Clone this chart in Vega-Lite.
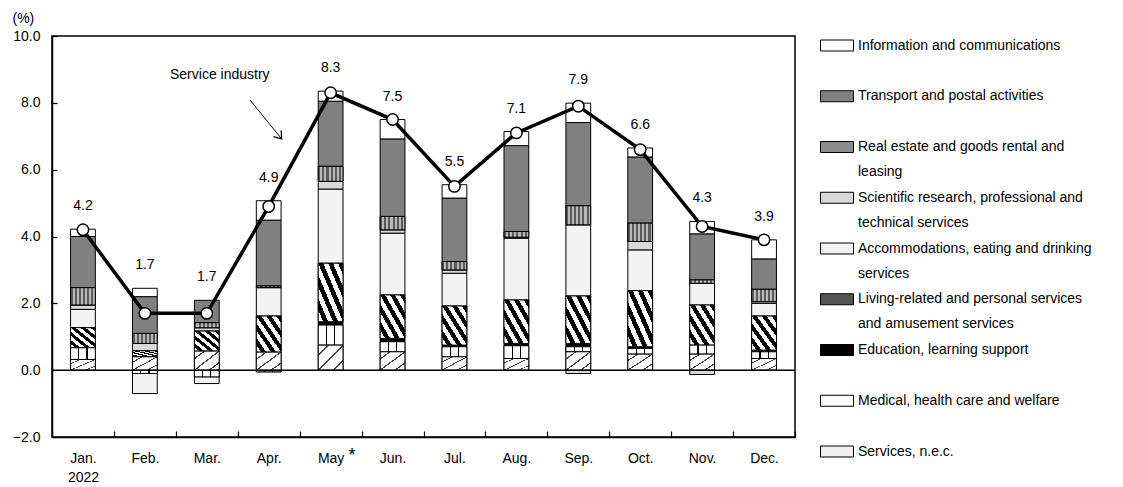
{
  "$schema": "https://vega.github.io/schema/vega-lite/v6.json",
  "width": 743,
  "height": 401,
  "autosize": {"type": "none"},
  "padding": {"left": 52, "top": 36, "right": 328, "bottom": 50},
  "config": {
    "font": "Liberation Sans",
    "view": {"stroke": "black", "strokeWidth": 1.5}
  },
  "datasets": {
    "bars": [
      {"month": "Jan.", "category": "Services, n.e.c.", "value": 0.32},
      {"month": "Jan.", "category": "Medical, health care and welfare", "value": 0.35},
      {"month": "Jan.", "category": "Living-related and personal services and amusement services", "value": 0.6},
      {"month": "Jan.", "category": "Accommodations, eating and drinking services", "value": 0.55},
      {"month": "Jan.", "category": "Scientific research, professional and technical services", "value": 0.13},
      {"month": "Jan.", "category": "Real estate and goods rental and leasing", "value": 0.52},
      {"month": "Jan.", "category": "Transport and postal activities", "value": 1.53},
      {"month": "Jan.", "category": "Information and communications", "value": 0.22},
      {"month": "Feb.", "category": "Services, n.e.c.", "value": 0.4},
      {"month": "Feb.", "category": "Medical, health care and welfare", "value": -0.1},
      {"month": "Feb.", "category": "Living-related and personal services and amusement services", "value": 0.18},
      {"month": "Feb.", "category": "Accommodations, eating and drinking services", "value": -0.6},
      {"month": "Feb.", "category": "Scientific research, professional and technical services", "value": 0.22},
      {"month": "Feb.", "category": "Real estate and goods rental and leasing", "value": 0.3},
      {"month": "Feb.", "category": "Transport and postal activities", "value": 1.1},
      {"month": "Feb.", "category": "Information and communications", "value": 0.25},
      {"month": "Mar.", "category": "Services, n.e.c.", "value": 0.57},
      {"month": "Mar.", "category": "Medical, health care and welfare", "value": -0.2},
      {"month": "Mar.", "category": "Living-related and personal services and amusement services", "value": 0.6},
      {"month": "Mar.", "category": "Accommodations, eating and drinking services", "value": -0.2},
      {"month": "Mar.", "category": "Scientific research, professional and technical services", "value": 0.1},
      {"month": "Mar.", "category": "Real estate and goods rental and leasing", "value": 0.15},
      {"month": "Mar.", "category": "Transport and postal activities", "value": 0.67},
      {"month": "Apr.", "category": "Services, n.e.c.", "value": 0.54},
      {"month": "Apr.", "category": "Medical, health care and welfare", "value": -0.05},
      {"month": "Apr.", "category": "Living-related and personal services and amusement services", "value": 1.08},
      {"month": "Apr.", "category": "Accommodations, eating and drinking services", "value": 0.85},
      {"month": "Apr.", "category": "Real estate and goods rental and leasing", "value": 0.05},
      {"month": "Apr.", "category": "Transport and postal activities", "value": 1.97},
      {"month": "Apr.", "category": "Information and communications", "value": 0.58},
      {"month": "May", "category": "Services, n.e.c.", "value": 0.75},
      {"month": "May", "category": "Medical, health care and welfare", "value": 0.6},
      {"month": "May", "category": "Education, learning support", "value": 0.1},
      {"month": "May", "category": "Living-related and personal services and amusement services", "value": 1.75},
      {"month": "May", "category": "Accommodations, eating and drinking services", "value": 2.22},
      {"month": "May", "category": "Scientific research, professional and technical services", "value": 0.23},
      {"month": "May", "category": "Real estate and goods rental and leasing", "value": 0.45},
      {"month": "May", "category": "Transport and postal activities", "value": 1.95},
      {"month": "May", "category": "Information and communications", "value": 0.3},
      {"month": "Jun.", "category": "Services, n.e.c.", "value": 0.55},
      {"month": "Jun.", "category": "Medical, health care and welfare", "value": 0.3},
      {"month": "Jun.", "category": "Education, learning support", "value": 0.1},
      {"month": "Jun.", "category": "Living-related and personal services and amusement services", "value": 1.3},
      {"month": "Jun.", "category": "Accommodations, eating and drinking services", "value": 1.85},
      {"month": "Jun.", "category": "Scientific research, professional and technical services", "value": 0.1},
      {"month": "Jun.", "category": "Real estate and goods rental and leasing", "value": 0.4},
      {"month": "Jun.", "category": "Transport and postal activities", "value": 2.32},
      {"month": "Jun.", "category": "Information and communications", "value": 0.58},
      {"month": "Jul.", "category": "Services, n.e.c.", "value": 0.4},
      {"month": "Jul.", "category": "Medical, health care and welfare", "value": 0.3},
      {"month": "Jul.", "category": "Education, learning support", "value": 0.05},
      {"month": "Jul.", "category": "Living-related and personal services and amusement services", "value": 1.17},
      {"month": "Jul.", "category": "Accommodations, eating and drinking services", "value": 0.98},
      {"month": "Jul.", "category": "Scientific research, professional and technical services", "value": 0.1},
      {"month": "Jul.", "category": "Real estate and goods rental and leasing", "value": 0.25},
      {"month": "Jul.", "category": "Transport and postal activities", "value": 1.9},
      {"month": "Jul.", "category": "Information and communications", "value": 0.4},
      {"month": "Aug.", "category": "Services, n.e.c.", "value": 0.35},
      {"month": "Aug.", "category": "Medical, health care and welfare", "value": 0.38},
      {"month": "Aug.", "category": "Education, learning support", "value": 0.07},
      {"month": "Aug.", "category": "Living-related and personal services and amusement services", "value": 1.3},
      {"month": "Aug.", "category": "Accommodations, eating and drinking services", "value": 1.85},
      {"month": "Aug.", "category": "Scientific research, professional and technical services", "value": 0.03},
      {"month": "Aug.", "category": "Real estate and goods rental and leasing", "value": 0.17},
      {"month": "Aug.", "category": "Transport and postal activities", "value": 2.57},
      {"month": "Aug.", "category": "Information and communications", "value": 0.42},
      {"month": "Sep.", "category": "Services, n.e.c.", "value": 0.55},
      {"month": "Sep.", "category": "Medical, health care and welfare", "value": 0.15},
      {"month": "Sep.", "category": "Education, learning support", "value": 0.1},
      {"month": "Sep.", "category": "Living-related and personal services and amusement services", "value": 1.42},
      {"month": "Sep.", "category": "Accommodations, eating and drinking services", "value": 2.13},
      {"month": "Sep.", "category": "Scientific research, professional and technical services", "value": -0.1},
      {"month": "Sep.", "category": "Real estate and goods rental and leasing", "value": 0.57},
      {"month": "Sep.", "category": "Transport and postal activities", "value": 2.49},
      {"month": "Sep.", "category": "Information and communications", "value": 0.58},
      {"month": "Oct.", "category": "Services, n.e.c.", "value": 0.48},
      {"month": "Oct.", "category": "Medical, health care and welfare", "value": 0.17},
      {"month": "Oct.", "category": "Education, learning support", "value": 0.05},
      {"month": "Oct.", "category": "Living-related and personal services and amusement services", "value": 1.68},
      {"month": "Oct.", "category": "Accommodations, eating and drinking services", "value": 1.22},
      {"month": "Oct.", "category": "Scientific research, professional and technical services", "value": 0.25},
      {"month": "Oct.", "category": "Real estate and goods rental and leasing", "value": 0.55},
      {"month": "Oct.", "category": "Transport and postal activities", "value": 1.98},
      {"month": "Oct.", "category": "Information and communications", "value": 0.27},
      {"month": "Nov.", "category": "Services, n.e.c.", "value": 0.48},
      {"month": "Nov.", "category": "Medical, health care and welfare", "value": 0.27},
      {"month": "Nov.", "category": "Living-related and personal services and amusement services", "value": 1.2},
      {"month": "Nov.", "category": "Accommodations, eating and drinking services", "value": 0.65},
      {"month": "Nov.", "category": "Scientific research, professional and technical services", "value": -0.13},
      {"month": "Nov.", "category": "Real estate and goods rental and leasing", "value": 0.1},
      {"month": "Nov.", "category": "Transport and postal activities", "value": 1.38},
      {"month": "Nov.", "category": "Information and communications", "value": 0.37},
      {"month": "Dec.", "category": "Services, n.e.c.", "value": 0.35},
      {"month": "Dec.", "category": "Medical, health care and welfare", "value": 0.2},
      {"month": "Dec.", "category": "Education, learning support", "value": 0.05},
      {"month": "Dec.", "category": "Living-related and personal services and amusement services", "value": 1.02},
      {"month": "Dec.", "category": "Accommodations, eating and drinking services", "value": 0.38},
      {"month": "Dec.", "category": "Scientific research, professional and technical services", "value": 0.05},
      {"month": "Dec.", "category": "Real estate and goods rental and leasing", "value": 0.37},
      {"month": "Dec.", "category": "Transport and postal activities", "value": 0.91},
      {"month": "Dec.", "category": "Information and communications", "value": 0.57}
    ],
    "service": [
      {"month": "Jan.", "value": 4.2},
      {"month": "Feb.", "value": 1.7},
      {"month": "Mar.", "value": 1.7},
      {"month": "Apr.", "value": 4.9},
      {"month": "May", "value": 8.3},
      {"month": "Jun.", "value": 7.5},
      {"month": "Jul.", "value": 5.5},
      {"month": "Aug.", "value": 7.1},
      {"month": "Sep.", "value": 7.9},
      {"month": "Oct.", "value": 6.6},
      {"month": "Nov.", "value": 4.3},
      {"month": "Dec.", "value": 3.9}
    ]
  },
  "layer": [
    {
      "data": {"name": "bars"},
      "transform": [
        {"calculate": "indexof(['Services, n.e.c.','Medical, health care and welfare','Education, learning support','Living-related and personal services and amusement services','Accommodations, eating and drinking services','Scientific research, professional and technical services','Real estate and goods rental and leasing','Transport and postal activities','Information and communications'], datum.category)", "as": "rank"},
        {"stack": "value", "groupby": ["month"], "sort": [{"field": "rank", "order": "ascending"}], "as": ["v0", "v1"]}
      ],
      "mark": {"type": "bar", "stroke": "black", "strokeWidth": 1, "width": {"band": 0.4}},
      "encoding": {
        "x": {
          "field": "month", "type": "nominal",
          "sort": ["Jan.", "Feb.", "Mar.", "Apr.", "May", "Jun.", "Jul.", "Aug.", "Sep.", "Oct.", "Nov.", "Dec."],
          "scale": {"type": "band", "paddingInner": 0, "paddingOuter": 0},
          "axis": {
            "title": null, "labelAngle": 0, "tickBand": "extent", "tickSize": -6,
            "labelPadding": 20, "labelFontSize": 14, "labelLineHeight": 19,
            "labelExpr": "datum.value == 'Jan.' ? ['Jan.', '2022'] : datum.value",
            "domainColor": "black", "domainWidth": 1.5, "tickColor": "black", "tickWidth": 1.2, "labelColor": "black"
          }
        },
        "y": {
          "field": "v0", "type": "quantitative",
          "scale": {"domain": [-2, 10], "nice": false, "zero": false},
          "axis": {
            "title": "(%)", "titleAngle": 0, "titleX": -40, "titleY": -18, "titleAlign": "left",
            "titleBaseline": "middle", "titleFontWeight": "normal", "titleFontSize": 14, "titleColor": "black",
            "values": [-2, 0, 2, 4, 6, 8, 10], "format": ".1f", "labelFontSize": 14,
            "tickSize": -5, "labelPadding": 17, "grid": false,
            "domainColor": "black", "domainWidth": 1.5, "tickColor": "black", "tickWidth": 1.2, "labelColor": "black"
          }
        },
        "y2": {"field": "v1"},
        "fill": {
          "field": "category", "type": "nominal",
          "scale": {
            "domain": [
              "Information and communications",
              "Transport and postal activities",
              "Real estate and goods rental and leasing",
              "Scientific research, professional and technical services",
              "Accommodations, eating and drinking services",
              "Living-related and personal services and amusement services",
              "Education, learning support",
              "Medical, health care and welfare",
              "Services, n.e.c."
            ],
            "range": ["#ffffff", "#808080", "#8c8c8c", "#d9d9d9", "#f3f3f3", "#555555", "#000000", "#ffffff", "#eeeeee"]
          },
          "legend": {
            "orient": "none", "legendX": 773.5, "legendY": -2, "title": null, "padding": 0,
            "symbolType": "M-1.5,-0.5H1.5V0.5H-1.5Z", "symbolSize": 484,
            "symbolStrokeColor": "black", "symbolStrokeWidth": 1, "symbolOpacity": 1,
            "labelFontSize": 14, "labelColor": "black", "labelOffset": 9.5, "labelLimit": 320,
            "rowPadding": 6.75, "gridAlign": "all",
            "labelExpr": "datum.label == 'Real estate and goods rental and leasing' ? ['Real estate and goods rental and', 'leasing'] : datum.label == 'Scientific research, professional and technical services' ? ['Scientific research, professional and', 'technical services'] : datum.label == 'Accommodations, eating and drinking services' ? ['Accommodations, eating and drinking', 'services'] : datum.label == 'Living-related and personal services and amusement services' ? ['Living-related and personal services', 'and amusement services'] : [datum.label, '']",
            "encode": {
              "labels": {"update": {"lineHeight": {"value": 25}, "baseline": {"value": "top"}, "dy": {"value": -7}}}
            }
          }
        }
      }
    },
    {
      "data": {"name": "bars"},
      "transform": [
        {"calculate": "indexof(['Services, n.e.c.','Medical, health care and welfare','Education, learning support','Living-related and personal services and amusement services','Accommodations, eating and drinking services','Scientific research, professional and technical services','Real estate and goods rental and leasing','Transport and postal activities','Information and communications'], datum.category)", "as": "rank"},
        {"stack": "value", "groupby": ["month"], "sort": [{"field": "rank", "order": "ascending"}], "as": ["v0", "v1"]},
        {"filter": "datum.category == 'Living-related and personal services and amusement services'"}
      ],
      "mark": {"type": "bar", "stroke": "black", "strokeWidth": 1, "width": {"band": 0.4},
        "fill": {"gradient": "linear", "x1": 0, "y1": 1, "x2": 1, "y2": 0, "stops": [
          {"offset": 0, "color": "#ffffff"}, {"offset": 0.1, "color": "#ffffff"}, {"offset": 0.1, "color": "#000000"}, {"offset": 0.2, "color": "#000000"},
          {"offset": 0.2, "color": "#ffffff"}, {"offset": 0.3, "color": "#ffffff"}, {"offset": 0.3, "color": "#000000"}, {"offset": 0.4, "color": "#000000"},
          {"offset": 0.4, "color": "#ffffff"}, {"offset": 0.5, "color": "#ffffff"}, {"offset": 0.5, "color": "#000000"}, {"offset": 0.6, "color": "#000000"},
          {"offset": 0.6, "color": "#ffffff"}, {"offset": 0.7, "color": "#ffffff"}, {"offset": 0.7, "color": "#000000"}, {"offset": 0.8, "color": "#000000"},
          {"offset": 0.8, "color": "#ffffff"}, {"offset": 0.9, "color": "#ffffff"}, {"offset": 0.9, "color": "#000000"}, {"offset": 1, "color": "#000000"}
        ]}},
      "encoding": {
        "x": {"field": "month", "type": "nominal", "sort": ["Jan.", "Feb.", "Mar.", "Apr.", "May", "Jun.", "Jul.", "Aug.", "Sep.", "Oct.", "Nov.", "Dec."]},
        "y": {"field": "v0", "type": "quantitative"},
        "y2": {"field": "v1"}
      }
    },
    {
      "data": {"name": "bars"},
      "transform": [
        {"calculate": "indexof(['Services, n.e.c.','Medical, health care and welfare','Education, learning support','Living-related and personal services and amusement services','Accommodations, eating and drinking services','Scientific research, professional and technical services','Real estate and goods rental and leasing','Transport and postal activities','Information and communications'], datum.category)", "as": "rank"},
        {"stack": "value", "groupby": ["month"], "sort": [{"field": "rank", "order": "ascending"}], "as": ["v0", "v1"]},
        {"filter": "datum.category == 'Medical, health care and welfare'"}
      ],
      "mark": {"type": "bar", "stroke": "black", "strokeWidth": 1, "width": {"band": 0.4},
        "fill": {"gradient": "linear", "x1": 0, "y1": 0, "x2": 1, "y2": 0, "stops": [
          {"offset": 0, "color": "#ffffff"}, {"offset": 0.31, "color": "#ffffff"}, {"offset": 0.31, "color": "#000000"}, {"offset": 0.36, "color": "#000000"},
          {"offset": 0.36, "color": "#ffffff"}, {"offset": 0.64, "color": "#ffffff"}, {"offset": 0.64, "color": "#000000"}, {"offset": 0.69, "color": "#000000"},
          {"offset": 0.69, "color": "#ffffff"}, {"offset": 1, "color": "#ffffff"}
        ]}},
      "encoding": {
        "x": {"field": "month", "type": "nominal", "sort": ["Jan.", "Feb.", "Mar.", "Apr.", "May", "Jun.", "Jul.", "Aug.", "Sep.", "Oct.", "Nov.", "Dec."]},
        "y": {"field": "v0", "type": "quantitative"},
        "y2": {"field": "v1"}
      }
    },
    {
      "data": {"name": "bars"},
      "transform": [
        {"calculate": "indexof(['Services, n.e.c.','Medical, health care and welfare','Education, learning support','Living-related and personal services and amusement services','Accommodations, eating and drinking services','Scientific research, professional and technical services','Real estate and goods rental and leasing','Transport and postal activities','Information and communications'], datum.category)", "as": "rank"},
        {"stack": "value", "groupby": ["month"], "sort": [{"field": "rank", "order": "ascending"}], "as": ["v0", "v1"]},
        {"filter": "datum.category == 'Services, n.e.c.'"}
      ],
      "mark": {"type": "bar", "stroke": "black", "strokeWidth": 1, "width": {"band": 0.4},
        "fill": {"gradient": "linear", "x1": 0, "y1": 0, "x2": 1, "y2": 1, "stops": [
          {"offset": 0, "color": "#ffffff"}, {"offset": 0.18, "color": "#ffffff"}, {"offset": 0.18, "color": "#444444"}, {"offset": 0.22, "color": "#444444"},
          {"offset": 0.22, "color": "#ffffff"}, {"offset": 0.48, "color": "#ffffff"}, {"offset": 0.48, "color": "#444444"}, {"offset": 0.52, "color": "#444444"},
          {"offset": 0.52, "color": "#ffffff"}, {"offset": 0.78, "color": "#ffffff"}, {"offset": 0.78, "color": "#444444"}, {"offset": 0.82, "color": "#444444"},
          {"offset": 0.82, "color": "#ffffff"}, {"offset": 1, "color": "#ffffff"}
        ]}},
      "encoding": {
        "x": {"field": "month", "type": "nominal", "sort": ["Jan.", "Feb.", "Mar.", "Apr.", "May", "Jun.", "Jul.", "Aug.", "Sep.", "Oct.", "Nov.", "Dec."]},
        "y": {"field": "v0", "type": "quantitative"},
        "y2": {"field": "v1"}
      }
    },
    {
      "data": {"name": "bars"},
      "transform": [
        {"calculate": "indexof(['Services, n.e.c.','Medical, health care and welfare','Education, learning support','Living-related and personal services and amusement services','Accommodations, eating and drinking services','Scientific research, professional and technical services','Real estate and goods rental and leasing','Transport and postal activities','Information and communications'], datum.category)", "as": "rank"},
        {"stack": "value", "groupby": ["month"], "sort": [{"field": "rank", "order": "ascending"}], "as": ["v0", "v1"]},
        {"filter": "datum.category == 'Real estate and goods rental and leasing'"}
      ],
      "mark": {"type": "bar", "stroke": "black", "strokeWidth": 1, "width": {"band": 0.4},
        "fill": {"gradient": "linear", "x1": 0, "y1": 0, "x2": 1, "y2": 0, "stops": [
          {"offset": 0, "color": "#5a5a5a"}, {"offset": 0.083, "color": "#5a5a5a"}, {"offset": 0.083, "color": "#b8b8b8"}, {"offset": 0.167, "color": "#b8b8b8"},
          {"offset": 0.167, "color": "#5a5a5a"}, {"offset": 0.25, "color": "#5a5a5a"}, {"offset": 0.25, "color": "#b8b8b8"}, {"offset": 0.333, "color": "#b8b8b8"},
          {"offset": 0.333, "color": "#5a5a5a"}, {"offset": 0.417, "color": "#5a5a5a"}, {"offset": 0.417, "color": "#b8b8b8"}, {"offset": 0.5, "color": "#b8b8b8"},
          {"offset": 0.5, "color": "#5a5a5a"}, {"offset": 0.583, "color": "#5a5a5a"}, {"offset": 0.583, "color": "#b8b8b8"}, {"offset": 0.667, "color": "#b8b8b8"},
          {"offset": 0.667, "color": "#5a5a5a"}, {"offset": 0.75, "color": "#5a5a5a"}, {"offset": 0.75, "color": "#b8b8b8"}, {"offset": 0.833, "color": "#b8b8b8"},
          {"offset": 0.833, "color": "#5a5a5a"}, {"offset": 0.917, "color": "#5a5a5a"}, {"offset": 0.917, "color": "#b8b8b8"}, {"offset": 1, "color": "#b8b8b8"}
        ]}},
      "encoding": {
        "x": {"field": "month", "type": "nominal", "sort": ["Jan.", "Feb.", "Mar.", "Apr.", "May", "Jun.", "Jul.", "Aug.", "Sep.", "Oct.", "Nov.", "Dec."]},
        "y": {"field": "v0", "type": "quantitative"},
        "y2": {"field": "v1"}
      }
    },
    {
      "data": {"values": [{}]},
      "mark": {"type": "rule", "color": "black", "strokeWidth": 1.5},
      "encoding": {"y": {"datum": 0}}
    },
    {
      "data": {"name": "service"},
      "mark": {"type": "line", "color": "black", "strokeWidth": 3.5},
      "encoding": {
        "x": {"field": "month", "type": "nominal", "sort": ["Jan.", "Feb.", "Mar.", "Apr.", "May", "Jun.", "Jul.", "Aug.", "Sep.", "Oct.", "Nov.", "Dec."]},
        "y": {"field": "value", "type": "quantitative"}
      }
    },
    {
      "data": {"name": "service"},
      "mark": {"type": "point", "shape": "circle", "filled": true, "fill": "white", "stroke": "black", "strokeWidth": 1.5, "size": 130, "opacity": 1},
      "encoding": {
        "x": {"field": "month", "type": "nominal", "sort": ["Jan.", "Feb.", "Mar.", "Apr.", "May", "Jun.", "Jul.", "Aug.", "Sep.", "Oct.", "Nov.", "Dec."]},
        "y": {"field": "value", "type": "quantitative"}
      }
    },
    {
      "data": {"name": "bars"},
      "transform": [
        {"filter": "datum.value > 0"},
        {"aggregate": [{"op": "sum", "field": "value", "as": "top"}], "groupby": ["month"]},
        {"lookup": "month", "from": {"data": {"name": "service"}, "key": "month", "fields": ["value"]}},
        {"calculate": "max(datum.top, datum.value)", "as": "labelY"}
      ],
      "mark": {"type": "text", "dy": -23, "fontSize": 14, "color": "black"},
      "encoding": {
        "x": {"field": "month", "type": "nominal", "sort": ["Jan.", "Feb.", "Mar.", "Apr.", "May", "Jun.", "Jul.", "Aug.", "Sep.", "Oct.", "Nov.", "Dec."]},
        "y": {"field": "labelY", "type": "quantitative"},
        "text": {"field": "value", "type": "quantitative", "format": ".1f"}
      }
    },
    {
      "data": {"values": [{}]},
      "mark": {"type": "text", "fontSize": 18, "color": "black", "text": "*"},
      "encoding": {
        "x": {"datum": "May", "bandPosition": 0.845},
        "y": {"datum": -2.58}
      }
    },
    {
      "data": {"values": [{}]},
      "mark": {"type": "text", "fontSize": 14, "color": "black", "text": "Service industry"},
      "encoding": {
        "x": {"datum": "Mar.", "bandPosition": 0.71},
        "y": {"datum": 8.83}
      }
    },
    {
      "data": {"values": [{}]},
      "mark": {"type": "rule", "color": "black", "strokeWidth": 1},
      "encoding": {
        "x": {"datum": "Mar.", "bandPosition": 1.2},
        "y": {"datum": 8.08},
        "x2": {"datum": "Apr.", "bandPosition": 0.71},
        "y2": {"datum": 6.92}
      }
    },
    {
      "data": {"values": [{}]},
      "mark": {"type": "point", "shape": "M-1,-0.7L0,0L-1,0.7", "filled": false, "stroke": "black", "strokeWidth": 1.2, "size": 196, "angle": 51, "opacity": 1},
      "encoding": {
        "x": {"datum": "Apr.", "bandPosition": 0.71},
        "y": {"datum": 6.92}
      }
    }
  ]
}
